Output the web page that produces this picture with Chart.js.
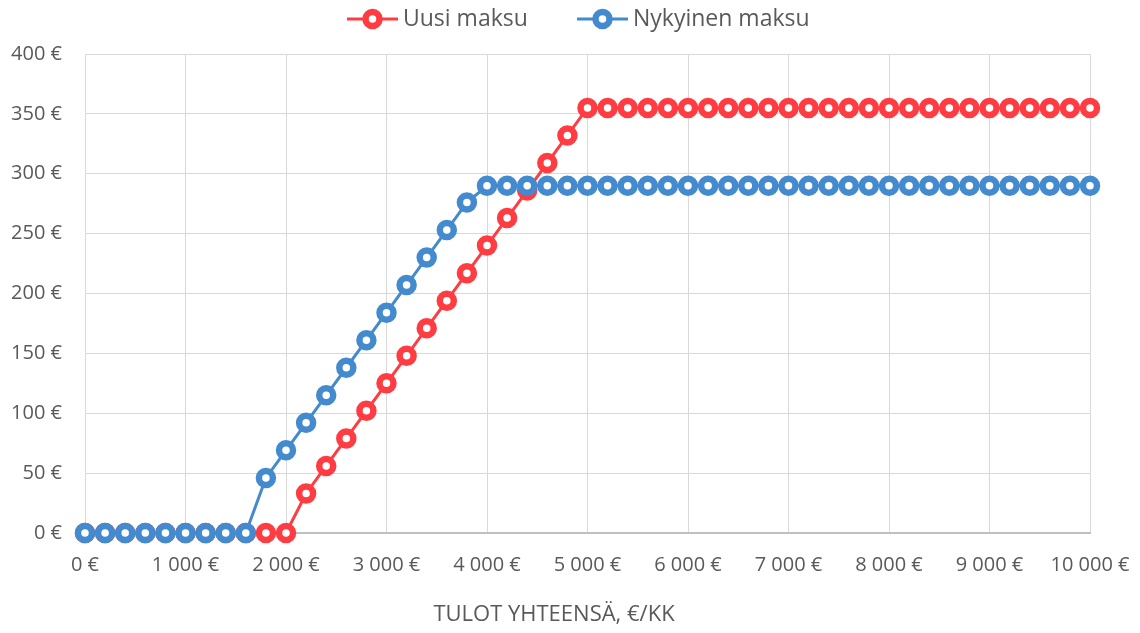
<!DOCTYPE html>
<html>
<head>
<meta charset="utf-8">
<script src="https://cdn.jsdelivr.net/npm/chart.js@4.4.0/dist/chart.umd.min.js"></script>
<style>
  html, body { margin: 0; padding: 0; background: #fff; }
  #wrap { width: 1140px; height: 633px; position: relative; }
</style>
</head>
<body>
<div id="wrap"><canvas id="chart"></canvas></div>
<script>
// Tulot (€/kk), 200 € välein
const tulot = [0, 200, 400, 600, 800, 1000, 1200, 1400, 1600, 1800,
    2000, 2200, 2400, 2600, 2800, 3000, 3200, 3400, 3600, 3800,
    4000, 4200, 4400, 4600, 4800, 5000, 5200, 5400, 5600, 5800,
    6000, 6200, 6400, 6600, 6800, 7000, 7200, 7400, 7600, 7800,
    8000, 8200, 8400, 8600, 8800, 9000, 9200, 9400, 9600, 9800, 10000];

const uusiMaksu = [0, 0, 0, 0, 0, 0, 0, 0, 0, 0,
    0, 33, 56, 79, 102, 125, 148, 171, 194, 217,
    240, 263, 286, 309, 332, 355, 355, 355, 355, 355,
    355, 355, 355, 355, 355, 355, 355, 355, 355, 355,
    355, 355, 355, 355, 355, 355, 355, 355, 355, 355, 355];

const nykyinenMaksu = [0, 0, 0, 0, 0, 0, 0, 0, 0, 46,
    69, 92, 115, 138, 161, 184, 207, 230, 253, 276,
    290, 290, 290, 290, 290, 290, 290, 290, 290, 290,
    290, 290, 290, 290, 290, 290, 290, 290, 290, 290,
    290, 290, 290, 290, 290, 290, 290, 290, 290, 290, 290];

const seriesNames = ['Uusi maksu', 'Nykyinen maksu'];
const axisTitle = 'TULOT YHTEENSÄ, €/KK';

const RED = 'rgb(255, 60, 66)';
const BLUE = 'rgb(68, 138, 206)';
const TEXT = '#595959';
const FONT = '"Open Sans", sans-serif';

function euro(v) {
    return String(v).replace(/\B(?=(\d{3})+(?!\d))/g, ' ') + ' €';
}

function toPoints(ys) {
    return tulot.map((x, i) => ({ x: x, y: ys[i] }));
}

function seriesStyle(color) {
    return {
        borderColor: color,
        backgroundColor: color,
        borderWidth: 3,
        pointRadius: 7,
        pointHoverRadius: 7,
        pointBorderWidth: 6.5,
        pointBackgroundColor: '#fff',
        pointBorderColor: color,
        tension: 0,
        clip: false
    };
}

// Excel-tyylinen selite (viiva + ympyrä) ja x-akselin otsikko
const extras = {
    id: 'extras',
    afterDraw(chart) {
        const ctx = chart.ctx;
        ctx.save();
        const items = [
            { label: seriesNames[0], color: RED, x0: 347 },
            { label: seriesNames[1], color: BLUE, x0: 577 }
        ];
        const y = 19;
        items.forEach(it => {
            ctx.strokeStyle = it.color;
            ctx.lineWidth = 3;
            ctx.beginPath();
            ctx.moveTo(it.x0, y);
            ctx.lineTo(it.x0 + 51, y);
            ctx.stroke();
            ctx.fillStyle = '#fff';
            ctx.lineWidth = 6.5;
            ctx.beginPath();
            ctx.arc(it.x0 + 25.5, y, 7, 0, Math.PI * 2);
            ctx.fill();
            ctx.stroke();
            ctx.fillStyle = TEXT;
            ctx.font = '23px ' + FONT;
            ctx.textBaseline = 'middle';
            ctx.textAlign = 'left';
            ctx.fillText(it.label, it.x0 + 56, y);
        });
        ctx.font = '22px ' + FONT;
        ctx.textAlign = 'center';
        ctx.textBaseline = 'middle';
        ctx.fillStyle = TEXT;
        ctx.fillText(axisTitle, 554, 615);
        ctx.restore();
    }
};

const ctx = document.getElementById('chart').getContext('2d');
new Chart(ctx, {
    type: 'line',
    data: {
        datasets: [
            Object.assign({ label: seriesNames[0], data: toPoints(uusiMaksu), order: 1 }, seriesStyle(RED)),
            Object.assign({ label: seriesNames[1], data: toPoints(nykyinenMaksu), order: 0 }, seriesStyle(BLUE))
        ]
    },
    options: {
        responsive: true,
        maintainAspectRatio: false,
        animation: false,
        layout: { padding: { top: 54, right: 50, bottom: 0, left: 0 } },
        plugins: {
            legend: { display: false },
            tooltip: { enabled: false }
        },
        scales: {
            x: {
                type: 'linear',
                min: 0,
                max: 10000,
                afterFit: (s) => { s.height = 100; s.paddingLeft = 0; s.paddingRight = 0; },
                ticks: {
                    stepSize: 1000,
                    padding: 20,
                    color: TEXT,
                    font: { family: FONT, size: 20 },
                    maxRotation: 0,
                    callback: (v) => euro(v)
                },
                grid: { color: '#d9d9d9', lineWidth: 1, drawTicks: false },
                border: { color: '#bfbfbf', width: 2 }
            },
            y: {
                min: 0,
                max: 400,
                afterFit: (s) => { s.width = 85; s.paddingTop = 0; s.paddingBottom = 0; },
                ticks: {
                    stepSize: 50,
                    padding: 23,
                    color: TEXT,
                    font: { family: FONT, size: 20 },
                    callback: (v) => euro(v)
                },
                grid: { color: '#d9d9d9', lineWidth: 1, drawTicks: false },
                border: { color: '#d9d9d9', width: 1 }
            }
        }
    },
    plugins: [extras]
});
</script>
</body>
</html>
